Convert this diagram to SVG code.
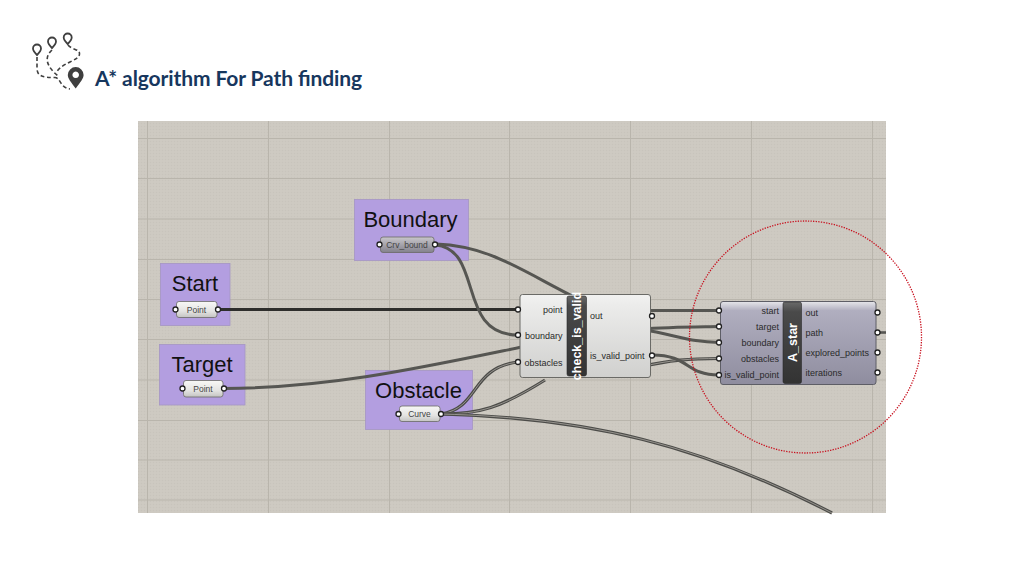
<svg xmlns="http://www.w3.org/2000/svg" width="1024" height="575" viewBox="0 0 1024 575">
<style>
.grid{stroke:#b9b5ac;stroke-width:1;fill:none}
.zone{fill:#b39ee0;stroke:#a596c4;stroke-width:.8}
.ztxt{font:22px "Liberation Sans",Arial,sans-serif;fill:#111;text-anchor:middle}
.par{fill:url(#light);stroke:#6a6a66;stroke-width:.8}
.ptxt{font:8.5px "Liberation Sans",Arial,sans-serif;fill:#444;text-anchor:middle}
.port{fill:#fff;stroke:#222;stroke-width:1.3}
.w{fill:none;stroke:#565652;stroke-width:3}
.w2{fill:none;stroke:#4c4c49;stroke-width:3.2}
.w2i{fill:none;stroke:#a9a69f;stroke-width:.8}
.lab{font:9px "Liberation Sans",Arial,sans-serif;fill:#2a2a2a}
.r{text-anchor:end}
.dark{fill:url(#strip);stroke:#2a2a2a;stroke-width:.6}
.nick{font:bold 12.5px "Liberation Sans",Arial,sans-serif;fill:#fff;text-anchor:middle}
.ic{fill:none;stroke:#3f3f3f;stroke-width:1.6;stroke-dasharray:4 2.6}
.pin{fill:none;stroke:#3f3f3f;stroke-width:1.8}
</style>
<defs>
<pattern id="tex" width="3" height="3" patternUnits="userSpaceOnUse"><rect width="3" height="3" fill="#cdc9c1"/><rect width="1" height="1" fill="#c8c4bc"/><rect x="1.5" y="1.5" width="1" height="1" fill="#d2cec6"/></pattern>
<linearGradient id="light" x1="0" y1="0" x2="0" y2="1"><stop offset="0" stop-color="#f8f8f6"/><stop offset=".6" stop-color="#e4e4e2"/><stop offset="1" stop-color="#c4c4c2"/></linearGradient>
<linearGradient id="bound" x1="0" y1="0" x2="0" y2="1"><stop offset="0" stop-color="#c8c6ca"/><stop offset="1" stop-color="#83818c"/></linearGradient>
<linearGradient id="cmp1" x1="0" y1="0" x2="0" y2="1"><stop offset="0" stop-color="#f2f2f1"/><stop offset=".12" stop-color="#ececeb"/><stop offset="1" stop-color="#d0d0ce"/></linearGradient>
<linearGradient id="cmp2" x1="0" y1="0" x2="0" y2="1"><stop offset="0" stop-color="#e6e6ea"/><stop offset=".11" stop-color="#b0aebf"/><stop offset="1" stop-color="#8f8d9f"/></linearGradient>
<linearGradient id="strip" x1="0" y1="0" x2="0" y2="1"><stop offset="0" stop-color="#6a6a6a"/><stop offset=".12" stop-color="#4a4a4a"/><stop offset="1" stop-color="#333"/></linearGradient>
</defs>

<g id="title">
<g id="icon">
<path class="ic" d="M37 57V68C37 76 42 77.500 55 77.500C61 78 60 88 70 89"/>
<path class="ic" d="M52 50C44 57 46 66 58 76"/>
<path class="ic" d="M68 45C72 50 80 49 79.500 54C79 61 62 62 56 73"/>
<path class="pin" d="M37 55C34 52 33 50 33 48.500A4 4 0 0 1 41 48.500C41 50 40 52 37 55Z"/>
<path class="pin" d="M52 48C49 45 48 43 48 41.500A4 4 0 0 1 56 41.500C56 43 55 45 52 48Z"/>
<path class="pin" d="M67.700 44C64.700 41 63.700 39 63.700 37.500A4 4 0 0 1 71.700 37.500C71.700 39 70.700 41 67.700 44Z"/>
<path fill="#3f3f3f" fill-rule="evenodd" d="M75.700 88.500C71 82 67.800 78.500 67.800 75A7.900 7.900 0 0 1 83.600 75C83.600 78.500 80.400 82 75.700 88.500ZM75.700 71.500A3.300 3.300 0 1 0 75.701 71.500Z"/>
</g>
<text x="95" y="86" font-family="Lato,'Liberation Sans',sans-serif" font-size="21" font-weight="700" fill="#17375e" textLength="267">A* algorithm For Path finding</text>
</g>

<g id="canvas">
<rect x="138" y="121" width="748" height="392" fill="url(#tex)"/>
<path class="grid" d="M147.500 121V513M268.500 121V513M389.500 121V513M509.500 121V513M630.500 121V513M751.500 121V513M872.500 121V513M138 138.500H886M138 178.500H886M138 219H886M138 259.500H886M138 299.500H886M138 339.500H886M138 380H886M138 420.500H886M138 460H886M138 500H886"/>
</g>

<g id="zone-start"><rect class="zone" x="160.500" y="263.500" width="69.500" height="62"/><text class="ztxt" x="195" y="291">Start</text></g>
<g id="zone-target"><rect class="zone" x="159.500" y="344.500" width="85.500" height="60.500"/><text class="ztxt" x="202" y="372">Target</text></g>
<g id="zone-boundary"><rect class="zone" x="354.500" y="199.500" width="114" height="61"/><text class="ztxt" x="410.500" y="227">Boundary</text></g>
<g id="zone-obstacle"><rect class="zone" x="365.500" y="370.500" width="107" height="59"/><text class="ztxt" x="418.500" y="398">Obstacle</text></g>

<g id="connectors">
<path class="w" style="stroke:#2e2e2c;stroke-width:3.2" d="M218 309.500H518"/>
<path class="w" d="M224 388.500C330 388 420 368 522 347"/>
<path class="w" d="M436 244C490 246 520 270 580 300"/>
<path class="w" d="M436 245C484 250 456 335 518 335"/>
<path class="w2" d="M441 414C480 408 470 368 518 362"/>
<path class="w2i" d="M441 414C480 408 470 368 518 362"/>
<path class="w2" d="M441 414C480 414 500 408 545 380"/>
<path class="w2i" d="M441 414C480 414 500 408 545 380"/>
<path class="w2" d="M441 414C590 418 700 445 832 513"/>
<path class="w2i" d="M441 414C590 418 700 445 832 513"/>
<path class="w" d="M640 310.500H719"/>
<path class="w" d="M640 329C670 327 690 327 719 326.500"/>
<path class="w" d="M640 329C680 336 690 342 719 342.500"/>
<path class="w2" d="M640 367C670 360 690 358.500 719 358.500"/>
<path class="w2i" d="M640 367C670 360 690 358.500 719 358.500"/>
<path class="w" d="M652 355C690 355 685 375 719 375"/>
<path class="w" style="stroke-width:2.600" d="M878 332.500H886"/>
</g>

<g id="param-start"><rect class="par" x="176.500" y="301.500" width="40.500" height="16" rx="2.500"/><text class="ptxt" x="196.500" y="312.500">Point</text><circle class="port" cx="175.500" cy="309.500" r="2.500"/><circle class="port" cx="218" cy="309.500" r="2.500"/></g>
<g id="param-target"><rect class="par" x="183.500" y="380.500" width="39.500" height="16.500" rx="2.500"/><text class="ptxt" x="203" y="391.500">Point</text><circle class="port" cx="182.500" cy="388.500" r="2.500"/><circle class="port" cx="224" cy="388.500" r="2.500"/></g>
<g id="param-boundary"><rect class="par" style="fill:url(#bound)" x="380.500" y="237" width="53.500" height="15.500" rx="2.500"/><text class="ptxt" x="407" y="247.500">Crv_bound</text><circle class="port" cx="379.500" cy="244.500" r="2.500"/><circle class="port" cx="435" cy="244.500" r="2.500"/></g>
<g id="param-obstacle"><rect class="par" x="399.500" y="406" width="40.500" height="15.500" rx="2.500"/><text class="ptxt" x="419.500" y="416.500">Curve</text><circle class="port" cx="398.500" cy="414" r="2.500"/><circle class="port" cx="441" cy="414" r="2.500"/></g>

<g id="check_is_valid">
<rect x="520" y="294.500" width="130.500" height="83" rx="2.500" fill="url(#cmp1)" stroke="#6a6a66"/>
<rect class="dark" x="567" y="296" width="19.500" height="80" rx="2"/>
<text class="nick" transform="translate(580.500 336) rotate(-90)">check_is_valid</text>
<g class="lab"><text class="r" x="562.500" y="313">point</text><text class="r" x="562.500" y="339">boundary</text><text class="r" x="562.500" y="366">obstacles</text><text x="590" y="319">out</text><text x="590" y="359">is_valid_point</text></g>
<circle class="port" cx="518" cy="309.500" r="2.500"/><circle class="port" cx="518" cy="335" r="2.500"/><circle class="port" cx="518" cy="362" r="2.500"/><circle class="port" cx="652" cy="316" r="2.500"/><circle class="port" cx="652" cy="355.500" r="2.500"/>
</g>

<g id="a_star">
<rect x="720.500" y="301.500" width="155.500" height="83" rx="2.500" fill="url(#cmp2)" stroke="#5e5e66"/>
<rect class="dark" x="783" y="302" width="18.500" height="81.500" rx="2"/>
<text class="nick" transform="translate(796.500 342.500) rotate(-90)">A_star</text>
<g class="lab"><text class="r" x="779" y="314">start</text><text class="r" x="779" y="330">target</text><text class="r" x="779" y="346">boundary</text><text class="r" x="779" y="362">obstacles</text><text class="r" x="779" y="378">is_valid_point</text><text x="805.500" y="316">out</text><text x="805.500" y="336">path</text><text x="805.500" y="356">explored_points</text><text x="805.500" y="376">iterations</text></g>
<circle class="port" cx="719" cy="310.500" r="2.500"/><circle class="port" cx="719" cy="326.500" r="2.500"/><circle class="port" cx="719" cy="342.500" r="2.500"/><circle class="port" cx="719" cy="358.500" r="2.500"/><circle class="port" cx="719" cy="375" r="2.500"/><circle class="port" cx="877.500" cy="312.500" r="2.500"/><circle class="port" cx="877.500" cy="332.500" r="2.500"/><circle class="port" cx="877.500" cy="352.500" r="2.500"/><circle class="port" cx="877.500" cy="372.500" r="2.500"/>
</g>

<circle id="highlight" cx="805.500" cy="337" r="116" fill="none" stroke="#c8101e" stroke-width="1.300" stroke-dasharray="1.300 1.300"/>
</svg>
